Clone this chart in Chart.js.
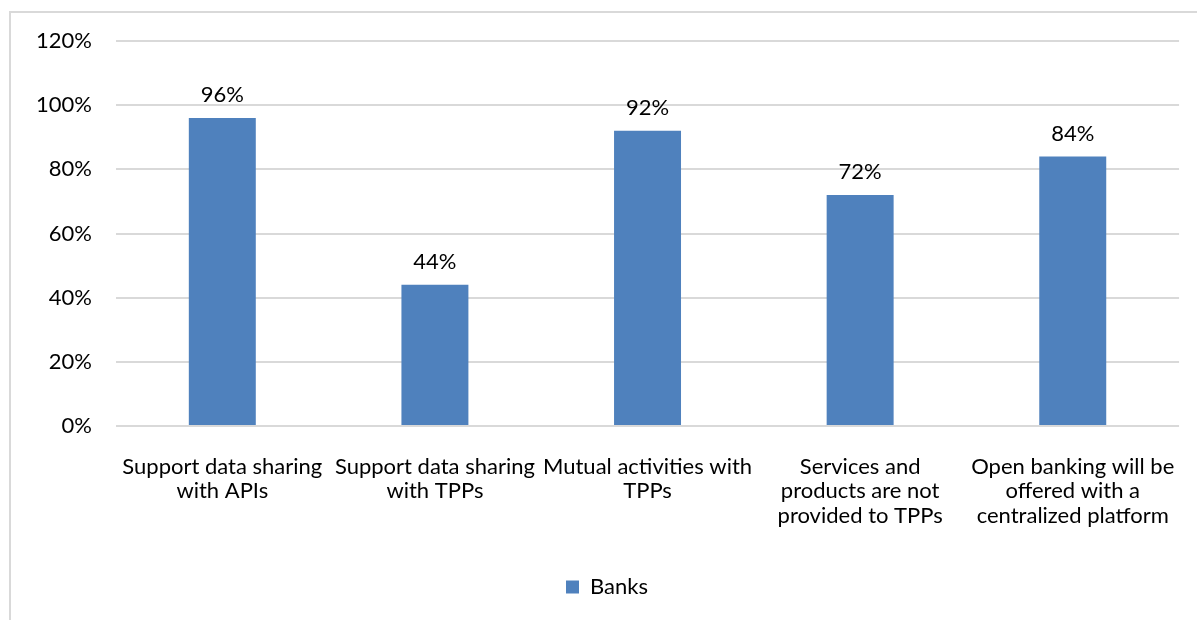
<!DOCTYPE html>
<html>
<head>
<meta charset="utf-8">
<script src="https://cdn.jsdelivr.net/npm/chart.js@4.4.1/dist/chart.umd.min.js"></script>
<style>
  html, body { margin: 0; padding: 0; background: #fff; overflow: hidden; }
  #frame { position: absolute; left: 9px; top: 11px; width: 1200px; height: 640px; border: 2px solid #d9d9d9; }
  #wrap { position: absolute; left: 0; top: 0; width: 1197px; height: 620px; }
</style>
</head>
<body>
<div id="frame"></div>
<div id="wrap"><canvas id="barChartArea"></canvas></div>
<script>
const categories = [
    ['Support data sharing', 'with APIs'],
    ['Support data sharing', 'with TPPs'],
    ['Mutual activities with', 'TPPs'],
    ['Services and', 'products are not', 'provided to TPPs'],
    ['Open banking will be', 'offered with a', 'centralized platform'],
];
const banks = [96, 44, 92, 72, 84];
const yTicks = [0, 20, 40, 60, 80, 100, 120];

const fontFamily = "Lato, 'Open Sans', sans-serif";

// draw the value above each bar
const valueLabels = {
    id: 'valueLabels',
    afterDatasetsDraw(chart) {
        const ctx = chart.ctx;
        ctx.save();
        ctx.font = '22px ' + fontFamily;
        ctx.fillStyle = '#000';
        ctx.textAlign = 'center';
        ctx.textBaseline = 'bottom';
        chart.getDatasetMeta(0).data.forEach((bar, i) => {
            ctx.fillText(banks[i] + '%', bar.x, bar.y - 12);
        });
        ctx.restore();
    }
};

const barChart = document.getElementById("barChartArea").getContext("2d");

let displayBarChart = new Chart(barChart, {
    type: 'bar',
    data: {
        labels: categories,
        datasets: [{
            label: 'Banks',
            data: banks,
            backgroundColor: '#4F81BD',
            borderWidth: 0,
            categoryPercentage: 1,
            barPercentage: 0.315,
        }],
    },
    options: {
        responsive: true,
        maintainAspectRatio: false,
        animation: false,
        layout: {
            padding: { left: 34, right: 17, top: 41, bottom: 12 }
        },
        plugins: {
            tooltip: { enabled: false },
            legend: {
                position: 'bottom',
                labels: {
                    boxWidth: 13,
                    boxHeight: 13,
                    padding: 10,
                    color: '#000',
                    font: { size: 22, family: fontFamily },
                }
            }
        },
        scales: {
            x: {
                grid: { display: false },
                border: { display: false },
                ticks: {
                    color: '#000',
                    padding: 21,
                    maxRotation: 0,
                    autoSkip: false,
                    font: { size: 22, family: fontFamily, lineHeight: 1.1 },
                },
                afterFit(scale) { scale.height = 140; }
            },
            y: {
                min: 0,
                max: 120,
                afterBuildTicks(scale) { scale.ticks = yTicks.map(v => ({ value: v })); },
                grid: { color: '#d9d9d9', lineWidth: 2, drawTicks: false },
                border: { display: false },
                ticks: {
                    color: '#000',
                    padding: 24,
                    font: { size: 22, family: fontFamily },
                    callback: v => v + '%',
                },
                afterFit(scale) { scale.width = 82; }
            }
        }
    },
    plugins: [valueLabels],
});
</script>
</body>
</html>
